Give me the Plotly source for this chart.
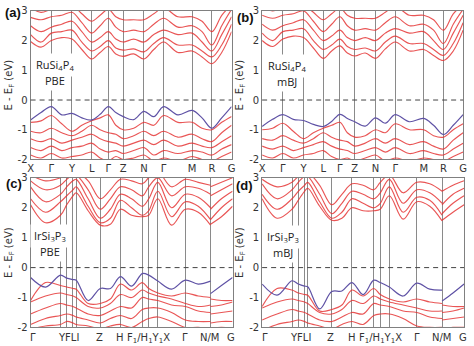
import plotly.graph_objects as go

# ---------------- k-paths ----------------
K_AB = [0, .052, .103, .155, .206, .255, .304, .346, .387, .424, .461, .513, .564, .613, .662, .733, .804, .853, .902, .951, 1.0]
TICKS_AB = [0, .103, .206, .304, .387, .461, .564, .662, .804, .902, 1.0]
LABELS_AB = ["X", "Γ", "Y", "L", "Γ", "Z", "N", "Γ", "M", "R", "G"]

K_CD = [0, .074, .148, .179, .210, .226, .285, .345, .395, .445, .5, .553, .585, .630, .698, .766, .83, .891, None, .891, .945, 1.0]
TICKS_CD = [0, .148, .179, .210, .226, .345, .445, .553, .585, .630, .766, .891, 1.0]
LABELS_CD = ["Γ", "YFLI", "Z", "H", "F<sub>1</sub>/H<sub>1</sub>Y<sub>1</sub>X", "Γ", "N/M", "G"]
LABEL_POS_CD = [0.012, 0.19, 0.341, 0.444, 0.585, 0.766, 0.888, 0.993]

# ---------------- (a) RuSi4P4 PBE ----------------
A_TOP = [-0.67, -0.42, -0.22, -0.5, -0.45, -0.6, -0.67, -0.48, -0.22, -0.42, -0.56, -0.66, -0.38, -0.56, -0.22, -0.5, -0.35, -0.6, -0.95, -0.6, -0.22]
A_V2 = [-0.75, -0.7, -0.52, -0.8, -1.05, -0.85, -0.7, -0.6, -0.5, -0.85, -1.0, -0.95, -0.75, -0.85, -0.52, -0.75, -0.75, -0.95, -1.0, -0.75, -0.55]
A_V3 = [-1.05, -1.1, -0.95, -1.1, -1.2, -1.05, -0.85, -1.0, -1.1, -1.15, -1.3, -1.2, -1.05, -1.2, -1.05, -1.25, -1.15, -1.3, -1.4, -1.1, -0.85]
A_V4 = [-1.3, -1.4, -1.3, -1.45, -1.35, -1.25, -1.15, -1.3, -1.4, -1.45, -1.55, -1.45, -1.35, -1.5, -1.35, -1.55, -1.45, -1.55, -1.6, -1.4, -1.2]
A_V5 = [-1.6, -1.7, -1.55, -1.7, -1.6, -1.55, -1.45, -1.65, -1.75, -1.7, -1.8, -1.7, -1.6, -1.85, -1.7, -1.8, -1.7, -1.75, -1.85, -1.65, -1.5]
A_V6 = [-1.85, -1.95, -1.8, -1.95, -1.9, -1.85, -1.75, -1.95, -2.05, -1.9, -2.0, -1.95, -1.85, -2.05, -1.95, -2.05, -1.9, -2.0, -2.05, -1.9, -1.75]
A_C1 = [1.97, 1.78, 2.0, 2.1, 2.05, 1.7, 1.38, 1.6, 1.8, 1.55, 1.47, 1.55, 1.38, 1.7, 1.95, 1.6, 1.65, 1.45, 1.22, 1.6, 2.3]
A_C2 = [2.2, 1.95, 2.25, 2.3, 2.35, 1.95, 1.65, 1.8, 2.0, 1.75, 1.68, 1.72, 1.62, 1.9, 2.1, 1.85, 1.85, 1.65, 1.45, 1.85, 2.55]
A_C3 = [2.5, 2.3, 2.45, 2.55, 2.65, 2.3, 1.95, 2.1, 2.3, 2.05, 1.95, 2.05, 1.95, 2.2, 2.35, 2.2, 2.25, 1.95, 1.65, 2.2, 2.8]
A_C4 = [2.78, 2.7, 2.8, 2.85, 2.95, 2.6, 2.25, 2.5, 2.75, 2.45, 2.3, 2.35, 2.3, 2.55, 2.75, 2.45, 2.5, 2.3, 1.85, 2.5, 3.05]
A_C5 = [3.1, 2.95, 3.05, 3.1, 3.2, 2.9, 2.65, 2.85, 3.05, 2.8, 2.7, 2.7, 2.7, 2.9, 3.1, 2.8, 2.8, 2.65, 2.3, 2.85, 3.2]

# ---------------- (b) RuSi4P4 mBJ ----------------
B_TOP = [-0.89, -0.65, -0.49, -0.65, -0.69, -0.82, -0.89, -0.72, -0.48, -0.62, -0.73, -0.88, -0.6, -0.78, -0.49, -0.73, -0.62, -0.85, -1.16, -0.85, -0.49]
B_V2 = [-1.0, -0.95, -0.78, -1.05, -1.3, -1.1, -0.95, -0.85, -0.75, -1.1, -1.25, -1.2, -1.0, -1.1, -0.8, -1.0, -1.0, -1.2, -1.25, -1.0, -0.8]
B_V3 = [-1.3, -1.35, -1.2, -1.35, -1.45, -1.3, -1.1, -1.25, -1.35, -1.4, -1.55, -1.45, -1.3, -1.45, -1.3, -1.5, -1.4, -1.55, -1.65, -1.35, -1.1]
B_V4 = [-1.55, -1.65, -1.55, -1.7, -1.6, -1.5, -1.4, -1.55, -1.65, -1.7, -1.8, -1.7, -1.6, -1.75, -1.6, -1.8, -1.7, -1.8, -1.85, -1.65, -1.45]
B_V5 = [-1.85, -1.95, -1.8, -1.95, -1.85, -1.8, -1.7, -1.9, -2.0, -1.95, -2.05, -1.95, -1.85, -2.05, -1.95, -2.05, -1.95, -2.0, -2.05, -1.9, -1.75]
B_C1 = [2.0, 1.8, 2.05, 2.15, 2.1, 1.75, 1.4, 1.65, 1.82, 1.58, 1.48, 1.58, 1.4, 1.72, 1.95, 1.65, 1.7, 1.5, 1.33, 1.65, 2.35]
B_C2 = [2.25, 2.0, 2.3, 2.35, 2.4, 2.0, 1.7, 1.85, 2.05, 1.8, 1.7, 1.75, 1.65, 1.95, 2.15, 1.9, 1.9, 1.7, 1.5, 1.9, 2.6]
B_C3 = [2.55, 2.35, 2.5, 2.6, 2.7, 2.35, 2.0, 2.15, 2.35, 2.1, 2.0, 2.1, 2.0, 2.25, 2.4, 2.25, 2.3, 2.0, 1.7, 2.25, 2.85]
B_C4 = [2.85, 2.75, 2.85, 2.9, 3.0, 2.65, 2.3, 2.55, 2.8, 2.5, 2.35, 2.4, 2.35, 2.6, 2.8, 2.5, 2.55, 2.35, 1.9, 2.55, 3.05]
B_C5 = [3.15, 3.0, 3.1, 3.15, 3.2, 2.95, 2.7, 2.9, 3.1, 2.85, 2.75, 2.75, 2.75, 2.95, 3.15, 2.85, 2.85, 2.7, 2.35, 2.9, 3.2]

# ---------------- (c) IrSi3P3 PBE ----------------
C_TOP = [-0.33, -0.65, -0.25, -0.35, -0.4, -0.42, -1.1, -0.7, -0.7, -0.3, -0.62, -0.2, -0.25, -0.45, -0.72, -0.42, -0.55, -0.45, None, -0.87, -0.6, -0.33]
C_V2 = [-1.1, -0.5, -0.6, -0.65, -0.7, -0.72, -1.2, -1.2, -1.05, -0.55, -0.75, -0.5, -0.7, -0.85, -0.95, -0.85, -0.95, -1.0, None, -1.05, -1.1, -1.1]
C_V3 = [-1.15, -0.95, -0.85, -0.9, -0.95, -1.0, -1.3, -1.35, -1.2, -0.9, -1.0, -0.75, -0.85, -0.95, -1.05, -1.2, -1.3, -1.25, None, -1.3, -1.25, -1.15]
C_V4 = [-1.55, -1.35, -1.2, -1.25, -1.3, -1.35, -1.55, -1.6, -1.45, -1.3, -1.35, -1.0, -1.05, -1.1, -1.25, -1.3, -1.45, -1.5, None, -1.55, -1.5, -1.45]
C_V5 = [-1.9, -1.7, -1.6, -1.55, -1.6, -1.65, -1.75, -1.85, -1.7, -1.6, -1.7, -1.4, -1.35, -1.35, -1.5, -1.75, -1.8, -1.8, None, -1.85, -1.8, -1.8]
C_V6 = [-2.05, -1.95, -1.9, -1.8, -1.85, -1.9, -1.95, -2.05, -1.95, -1.9, -2.0, -1.8, -1.7, -1.65, -1.8, -2.0, -2.0, -2.05, None, -2.05, -2.0, -2.05]
C_C1 = [2.1, 1.5, 1.75, 2.1, 2.4, 2.5, 1.9, 1.42, 1.45, 1.95, 1.75, 1.7, 1.75, 2.3, 1.42, 1.95, 1.85, 1.42, None, 1.45, 1.7, 2.05]
C_C2 = [2.3, 1.85, 2.2, 2.4, 2.6, 2.7, 2.05, 1.5, 1.65, 2.25, 2.0, 1.75, 1.9, 2.55, 1.7, 2.2, 2.05, 1.6, None, 1.6, 2.0, 2.3]
C_C3 = [2.7, 2.2, 2.45, 2.7, 2.9, 2.95, 2.3, 1.65, 1.95, 2.45, 2.3, 2.05, 2.3, 2.85, 2.0, 2.45, 2.35, 2.0, None, 1.95, 2.3, 2.55]
C_C4 = [2.9, 2.6, 2.75, 2.95, 3.1, 3.1, 2.6, 1.95, 2.3, 2.7, 2.6, 2.4, 2.7, 3.0, 2.4, 2.7, 2.65, 2.45, None, 2.4, 2.6, 2.8]
C_C5 = [3.1, 2.9, 3.0, 3.1, 3.2, 3.2, 2.9, 2.3, 2.6, 2.95, 2.9, 2.8, 3.0, 3.2, 2.7, 2.95, 2.85, 2.75, None, 2.7, 2.85, 3.0]

# ---------------- (d) IrSi3P3 mBJ ----------------
D_TOP = [-0.55, -0.92, -0.44, -0.55, -0.62, -0.64, -1.38, -0.8, -0.78, -0.5, -0.9, -0.42, -0.5, -0.65, -0.95, -0.52, -0.72, -0.75, None, -1.12, -0.85, -0.55]
D_V2 = [-1.3, -0.7, -0.75, -0.85, -0.9, -0.92, -1.45, -1.4, -1.25, -0.75, -0.95, -0.7, -0.9, -1.05, -1.15, -1.05, -1.15, -1.2, None, -1.25, -1.3, -1.3]
D_V3 = [-1.35, -1.15, -1.05, -1.1, -1.15, -1.2, -1.5, -1.55, -1.4, -1.1, -1.2, -0.95, -1.05, -1.15, -1.25, -1.35, -1.45, -1.45, None, -1.5, -1.45, -1.35]
D_V4 = [-1.75, -1.55, -1.4, -1.45, -1.5, -1.55, -1.75, -1.8, -1.65, -1.5, -1.55, -1.2, -1.25, -1.3, -1.45, -1.5, -1.65, -1.7, None, -1.75, -1.7, -1.65]
D_V5 = [-2.1, -1.9, -1.8, -1.75, -1.8, -1.85, -1.95, -2.05, -1.9, -1.8, -1.9, -1.6, -1.55, -1.55, -1.7, -1.95, -2.0, -2.0, None, -2.05, -2.0, -2.0]
D_C1 = [2.3, 1.65, 1.95, 2.25, 2.55, 2.65, 2.05, 1.58, 1.65, 2.0, 1.9, 1.9, 1.95, 2.4, 1.62, 2.2, 2.05, 1.56, None, 1.58, 1.85, 2.1]
D_C2 = [2.45, 1.95, 2.3, 2.55, 2.75, 2.85, 2.2, 1.65, 1.85, 2.3, 2.15, 2.0, 2.15, 2.7, 1.85, 2.35, 2.25, 1.75, None, 1.8, 2.15, 2.4]
D_C3 = [2.8, 2.3, 2.6, 2.85, 3.05, 3.05, 2.45, 1.8, 2.15, 2.55, 2.45, 2.3, 2.5, 2.95, 2.15, 2.6, 2.5, 2.15, None, 2.1, 2.45, 2.65]
D_C4 = [2.95, 2.7, 2.85, 3.05, 3.2, 3.2, 2.75, 2.1, 2.45, 2.8, 2.75, 2.6, 2.85, 3.1, 2.5, 2.85, 2.8, 2.55, None, 2.55, 2.75, 2.9]

PANEL_TAGS = ["(a)", "(b)", "(c)", "(d)"]
FORMULAS = ["RuSi<sub>4</sub>P<sub>4</sub>", "RuSi<sub>4</sub>P<sub>4</sub>",
            "IrSi<sub>3</sub>P<sub>3</sub>", "IrSi<sub>3</sub>P<sub>3</sub>"]
METHODS = ["PBE", "mBJ", "PBE", "mBJ"]

RED = "rgba(228,48,48,0.82)"
BLUE = "rgb(95,82,165)"
GRAY = "#8a8a8a"
TXT = "#333333"

panels = [
    dict(k=K_AB, top=A_TOP, others=[A_V2, A_V3, A_V4, A_V5, A_V6, A_C1, A_C2, A_C3, A_C4, A_C5]),
    dict(k=K_AB, top=B_TOP, others=[B_V2, B_V3, B_V4, B_V5, B_C1, B_C2, B_C3, B_C4, B_C5]),
    dict(k=K_CD, top=C_TOP, others=[C_V2, C_V3, C_V4, C_V5, C_V6, C_C1, C_C2, C_C3, C_C4, C_C5]),
    dict(k=K_CD, top=D_TOP, others=[D_V2, D_V3, D_V4, D_V5, D_C1, D_C2, D_C3, D_C4]),
]

W, H = 474, 346
# panel boxes in pixels: (left, right, top, bottom)
boxes = [(28, 232, 5, 159), (263, 467, 5, 159), (28, 233, 178, 333), (263, 468, 178, 333)]

fig = go.Figure()
for i, p in enumerate(panels):
    xa = "x" if i == 0 else f"x{i+1}"
    ya = "y" if i == 0 else f"y{i+1}"
    for band in p["others"]:
        fig.add_trace(go.Scatter(x=p["k"], y=band, mode="lines", xaxis=xa, yaxis=ya,
                                 line=dict(color=RED, width=1.15, shape="spline", smoothing=1.0),
                                 connectgaps=False, showlegend=False, hoverinfo="skip"))
    fig.add_trace(go.Scatter(x=p["k"], y=p["top"], mode="lines", xaxis=xa, yaxis=ya,
                             line=dict(color=BLUE, width=1.2, shape="spline", smoothing=1.0),
                             connectgaps=False, showlegend=False, hoverinfo="skip"))

layout = dict(width=W, height=H, margin=dict(l=0, r=0, t=0, b=0),
              paper_bgcolor="white", plot_bgcolor="white",
              font=dict(family="DejaVu Sans", size=10, color=TXT))
annotations = []
shapes = []
for i, (l, r, t, b) in enumerate(boxes):
    sfx = "" if i == 0 else str(i + 1)
    xd = [l / W, r / W]
    yd = [1 - b / H, 1 - t / H]
    ab = i < 2
    layout["xaxis" + sfx] = dict(
        domain=xd, range=[0, 1], anchor="y" + sfx,
        tickmode="array", tickvals=TICKS_AB if ab else TICKS_CD,
        ticktext=LABELS_AB if ab else [""] * len(TICKS_CD),
        showticklabels=True, ticks="", tickangle=0,
        showgrid=True, gridcolor=GRAY, gridwidth=1,
        showline=True, mirror=True, linecolor="#808080", linewidth=1,
        zeroline=False, tickfont=dict(size=10, color=TXT))
    layout["yaxis" + sfx] = dict(
        domain=yd, range=[-2, 3], anchor="x" + sfx,
        tickmode="array", tickvals=[-2, -1, 0, 1, 2, 3],
        ticktext=["-2", "-1", "0", "1", "2", "3"], ticks="",
        showgrid=False, zeroline=False,
        showline=True, mirror=True, linecolor="#808080", linewidth=1,
        tickfont=dict(size=10, color=TXT),
        title=dict(text="E - E<sub>F</sub> (eV)", font=dict(size=10, color=TXT), standoff=3))
    shapes.append(dict(type="line", xref=f"x{sfx} domain", yref="y" + sfx, x0=0, x1=1, y0=0, y1=0,
                       line=dict(color="#444444", width=1, dash="5px,4px")))
    if not ab:
        for lab, pos in zip(LABELS_CD, LABEL_POS_CD):
            annotations.append(dict(text=lab, x=pos, y=-0.015, xref="x" + sfx, yref=f"y{sfx} domain",
                                    xanchor="center", yanchor="top", showarrow=False,
                                    font=dict(size=10, color=TXT)))

# white label boxes (formula line and method line)
label_centers = [(53, 68), (288, 69), (48, 245), (284, 246)]
for (cx, cy), f_txt, m_txt in zip(label_centers, FORMULAS, METHODS):
    annotations.append(dict(text=f_txt, x=cx / W, y=1 - (cy - 7) / H, xref="paper", yref="paper",
                            xanchor="center", yanchor="middle", showarrow=False,
                            bgcolor="white", borderpad=3,
                            font=dict(family="Open Sans", size=11, color="#222222")))
    annotations.append(dict(text=m_txt, x=cx / W, y=1 - (cy + 9) / H, xref="paper", yref="paper",
                            xanchor="center", yanchor="middle", showarrow=False,
                            bgcolor="white", borderpad=2,
                            font=dict(family="Open Sans", size=11, color="#222222")))
tag_pos = [(10, 7), (246, 12), (11, 184), (245, 186)]
for (tx, ty), tag in zip(tag_pos, PANEL_TAGS):
    annotations.append(dict(text=f"<b>{tag}</b>", x=tx / W, y=1 - ty / H, xref="paper", yref="paper",
                            xanchor="center", yanchor="middle", showarrow=False,
                            font=dict(family="Liberation Sans", size=13, color="#111111")))

layout["annotations"] = annotations
layout["shapes"] = shapes
fig.update_layout(**layout)
fig.write_html("out.html")
